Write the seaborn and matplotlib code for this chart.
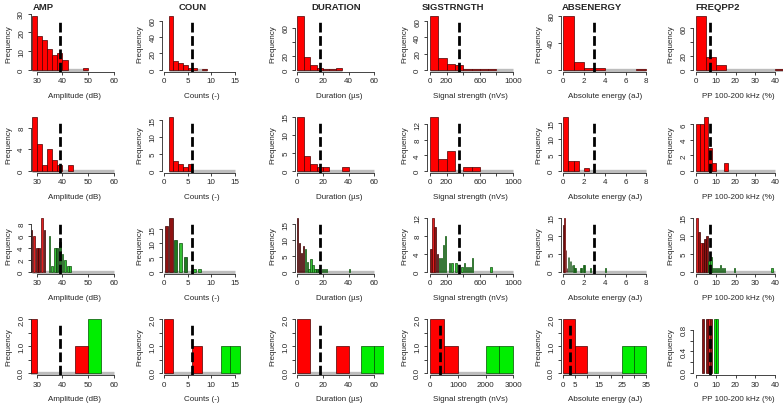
import numpy as np
import pandas as pd
import seaborn as sns
import matplotlib.pyplot as plt

sns.set_style("ticks")
plt.rcParams['font.family'] = ['Liberation Sans', 'DejaVu Sans']

titles = ["AMP", "COUN", "DURATION", "SIGSTRNGTH", "ABSENERGY", "FREQPP2"]
xlabels = ["Amplitude (dB)", "Counts (-)", "Duration (\u00b5s)", "Signal strength (nVs)",
           "Absolute energy (aJ)", "PP 100-200 kHz (%)"]
thresholds = [39, 6, 18, 350, 3, 7]

# row 1
r1_start = [28, 1, 0, 0, 0, 0]
r1_width = [2, 1, 5, 100, 1, 5]
r1_counts = [[29, 18, 16, 11, 8, 9, 5, 0, 0, 0, 1],
             [66, 11, 8, 6, 2, 2, 0, 1],
             [77, 18, 6, 2, 1, 1, 2],
             [67, 14, 7, 6, 1, 1, 1, 1],
             [80, 11, 2, 2, 0, 0, 0, 1],
             [78, 18, 7, 0, 0, 0, 0, 0, 1]]
r1_gray = [(28, 50), (1, 9), (0, 35), (0, 1000), (0, 8), (0, 45)]
r1_yticks = [[0, 10, 20, 30], [0, 20, 40, 60], [0, 20, 40, 60], [0, 20, 40, 60], [0, 40, 80], [0, 20, 40, 60]]
r1_ylabels = [["0", "10", "20", "30"], ["0", "20", "40", "60"], ["0", "20", "", "60"],
              ["0", "20", "40", "60"], ["0", "40", "80"], ["0", "20", "", "60"]]

# row 2
r2_start = [28, 1, 0, 0, 0, 0]
r2_width = [2, 1, 5, 100, 0.5, 2]
r2_counts = [[10, 5, 1, 4, 2, 1, 0, 1],
             [16, 3, 2, 1, 2],
             [15, 4, 2, 1, 1, 0, 0, 1],
             [14, 3, 5, 0, 1, 1],
             [17, 3, 3, 0, 1],
             [6, 6, 7, 3, 1, 0, 0, 1]]
r2_gray = [(28, 60), (1, 15), (0, 60), (0, 1000), (0, 8), (0, 40)]
r2_yticks = [[0, 4, 8], [0, 5, 10, 15], [0, 5, 10, 15], [0, 4, 8, 12], [0, 5, 10, 15], [0, 2, 4, 6]]

# row 3 (mixed groups)
r3_start = [27.5, 0, -0.5, 0, 0, 0]
r3_width = [1, 1, 1.5, 25, 0.1, 1]
r3_counts = [[7, 6, 4, 4, 9, 7, 0, 6, 1, 4, 4, 5, 3, 2, 1, 1],
             [16, 19, 11, 10, 5, 0, 1, 1],
             [17, 9, 6, 8, 7, 3, 1, 4, 2, 1, 1, 1, 0, 1, 1, 1] + [0] * 11 + [1],
             [5, 12, 10, 4, 3, 3, 6, 8, 0, 2, 2, 0, 2, 0, 0, 1, 2, 1, 1, 1, 3] + [0] * 8 + [1],
             [13, 15, 6, 1, 4, 4, 3, 3, 2, 2, 1, 1, 0, 0, 0, 0, 1, 1, 0, 2, 2, 0, 0, 0, 0, 0, 1] + [0] * 13 + [1],
             [15, 11, 8, 8, 9, 10, 3, 4, 1, 1, 1, 1, 2, 1, 1, 0, 0, 0, 0, 1] + [0] * 18 + [1]]
r3_colors = ["drddrddgggkkgggg",
             "ddkgkggg",
             "ddddggggggkk" + "g" * 16,
             "drdd" + "g" * 26,
             "drrd" + "g" * 37,
             "rdrddd" + "g" * 33]
r3_gray = [(28, 60), (0, 15), (0, 60), (0, 1000), (0, 8), (0, 40)]
r3_yticks = [[0, 2, 4, 6, 8], [0, 5, 10, 15], [0, 5, 10, 15], [0, 4, 8, 12], [0, 5, 10, 15], [0, 5, 10, 15]]

# row 4
r4_start = [25, 0, 0, 0, 0, 0]
r4_width = [5, 2, 10, 500, 5, 1]
r4_counts = [[2, 0, 0, 0, 1, 2],
             [2, 0, 0, 1, 0, 0, 1, 1],
             [2, 0, 0, 1, 0, 1, 1],
             [2, 1, 0, 0, 1, 1],
             [2, 1, 0, 0, 0, 1, 1],
             [0, 0, 0, 1, 0, 1, 1, 1, 0, 1, 1]]
r4_colors = ["RRRRRG", "RRRRRRGG", "RRRRRGG", "RRRRGG", "RRRRRGG", "ddddddrddGG"]
r4_gray = [(25, 60), (0, 16), (0, 70), (0, 3000), (0, 35), None]

xticks = [[30, 40, 50, 60], [0, 5, 10, 15], [0, 20, 40, 60], [0, 200, 400, 600, 800, 1000],
          [0, 2, 4, 6, 8], [0, 10, 20, 30, 40]]
xticklabels = [["30", "40", "50", "60"], ["0", "5", "10", "15"], ["0", "20", "40", "60"],
               ["0", "200", "", "600", "", "1000"], ["0", "2", "4", "6", "8"], ["0", "10", "20", "30", "40"]]
r4_xticks = {3: ([0, 1000, 2000, 3000], ["0", "1000", "2000", "3000"]),
             4: ([0, 5, 10, 15, 20, 25, 30, 35], ["0", "5", "", "15", "", "25", "", "35"])}

palette = {'R': '#ff0000', 'G': '#00ee00', 'd': '#8e1212', 'r': '#e02020', 'g': '#35c035', 'k': '#1f7a1f'}
edge_pal = {'R': '#4a0000', 'G': '#005000', 'd': '#3a0000', 'r': '#5a0000', 'g': '#0e4d0e', 'k': '#0a3a0a'}

# layout in pixels
W, H = 784, 406
spine_px = [30.7, 162.0, 295.0, 426.7, 560.7, 693.3]
ref_val = [30, 0, 0, 0, 0, 0]
ref_px = [36.7, 164.0, 297.3, 430.0, 563.3, 696.0]
ppu = [2.577, 4.733, 1.283, 0.083, 10.375, 1.975]
r4_ppu = {3: 0.02778, 4: 2.363}
box_w = [88, 80, 89, 88, 88, 90]
baselines = [70.7, 171.7, 272.7, 374.0]
data_h = 54.0
title_x = [43, 193, 336, 453, 592, 718]

fig = plt.figure(figsize=(7.84, 4.06), dpi=100)

rows = [
    (r1_start, r1_width, r1_counts, [None] * 6, r1_gray, r1_yticks, r1_ylabels, 1.0),
    (r2_start, r2_width, r2_counts, [None] * 6, r2_gray, r2_yticks, None, 1.0),
    (r3_start, r3_width, r3_counts, r3_colors, r3_gray, r3_yticks, None, 0.7),
    (r4_start, r4_width, r4_counts, r4_colors, r4_gray, None, None, 1.0),
]

for r, (starts, widths, counts_l, colors_l, grays, yticks_l, ylabs_l, shrink) in enumerate(rows):
    for c in range(6):
        counts = np.array(counts_l[c], dtype=float)
        n = len(counts)
        colors = colors_l[c] if colors_l[c] is not None else "R" * n
        edges = [starts[c] + widths[c] * i for i in range(n + 1)]
        centers = [e + widths[c] / 2 for e in edges[:-1]]
        ymax = counts.max()

        pad = 0.04 * data_h
        top = baselines[r] - data_h - pad
        h = data_h + 2 * pad
        ax = fig.add_axes([spine_px[c] / W, 1 - (top + h) / H, box_w[c] / W, h / H])

        k = ppu[c]
        if r == 3 and c in r4_ppu:
            k = r4_ppu[c]
        xl = ref_val[c] - (ref_px[c] - spine_px[c]) / k
        xr = xl + box_w[c] / k

        g = grays[c]
        if g is not None:
            ax.plot(g, [0, 0], color='#bdbdbd', lw=2.4, solid_capstyle='butt', zorder=0.5)

        df = pd.DataFrame({'x': centers, 'n': counts, 'col': list(colors)})
        for key, sub in df.groupby('col'):
            sub = sub[sub.n > 0]
            if len(sub) == 0:
                continue
            sns.histplot(data=sub, x='x', weights='n', bins=edges, color=palette[key],
                         alpha=1, edgecolor=edge_pal[key], linewidth=0.5, shrink=shrink, ax=ax)
        for p in list(ax.patches):
            if p.get_height() == 0:
                p.remove()

        ax.plot([thresholds[c]] * 2, [-0.04 * ymax, 0.9 * ymax], color='black', lw=2.0,
                linestyle=(0, (3.5, 1.3)), zorder=5)

        ax.set_xlim(xl, xr)
        ax.set_ylim(-0.04 * ymax, 1.04 * ymax)

        if r == 3 and c in r4_xticks:
            xt, xtl = r4_xticks[c]
        else:
            xt, xtl = xticks[c], xticklabels[c]
        if r == 3:
            if c == 5:
                yt, ytl = [0, 0.2, 0.4, 0.6, 0.8], ["0.0", "", "0.4", "", "0.8"]
            else:
                yt, ytl = [0, 0.5, 1, 1.5, 2], ["0.0", "", "1.0", "", "2.0"]
        else:
            yt = yticks_l[c]
            ytl = ylabs_l[c] if ylabs_l is not None else [str(v) for v in yt]

        ax.set_xticks(xt)
        ax.set_xticklabels(xtl)
        ax.set_yticks(yt)
        ax.set_yticklabels(ytl, rotation=90, va='center')
        ax.tick_params(length=2.5, width=0.6, pad=1.5, labelsize=5.8, color='#222222')

        sns.despine(ax=ax)
        for s in ['left', 'bottom']:
            ax.spines[s].set_linewidth(0.6)
        ax.spines['bottom'].set_bounds(xt[0], xt[-1])
        ax.spines['left'].set_bounds(0, yt[-1])

        ax.set_xlabel(xlabels[c], fontsize=5.8)
        ax.xaxis.set_label_coords(0.5, -(25.5 - pad) / h)
        ax.xaxis.label.set_va('center')
        ax.set_ylabel('Frequency', fontsize=5.8)
        ax.yaxis.set_label_coords(-22 / box_w[c], (data_h / 2 + pad) / h)
        ax.yaxis.label.set_va('center')

for c in range(6):
    fig.text(title_x[c] / W, 1 - 7 / H, titles[c], ha='center', va='center',
             fontsize=6.8, fontweight='bold')

fig.savefig('out.png', dpi=100)
